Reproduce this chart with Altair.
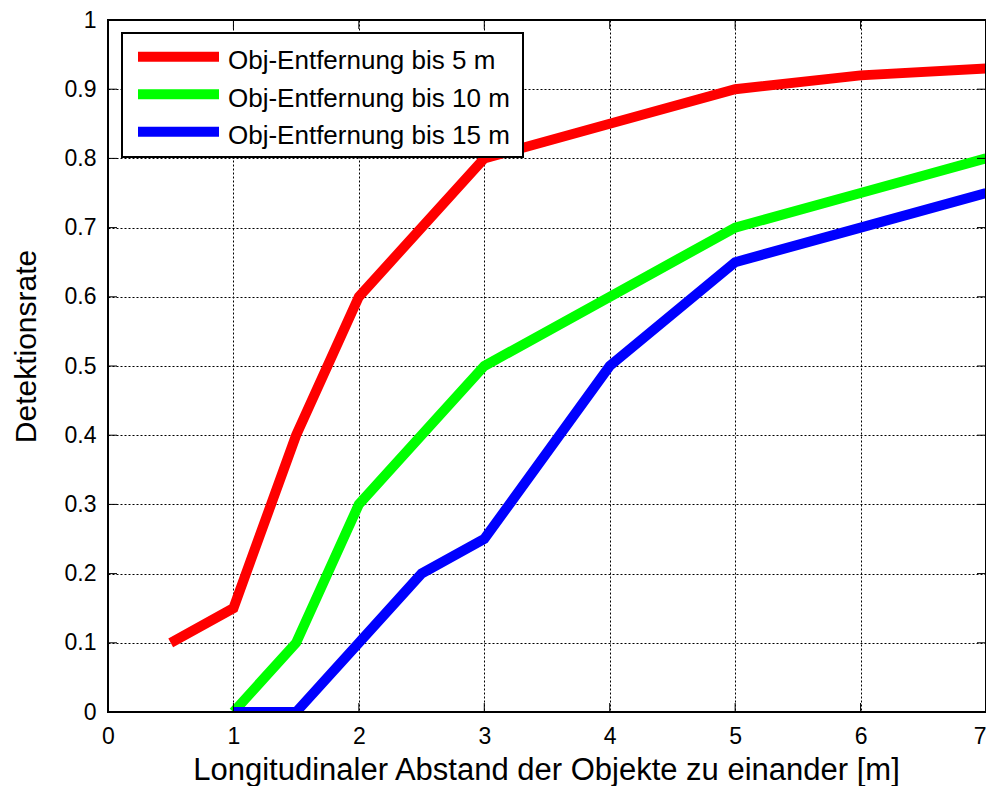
import altair as alt
import pandas as pd

# ---- data ----
x_red = [0.5, 1, 1.5, 2, 2.5, 3, 4, 5, 6, 7]
y_red = [0.1, 0.15, 0.4, 0.6, 0.7, 0.8, 0.85, 0.9, 0.92, 0.93]
x_green = [1, 1.5, 2, 2.5, 3, 4, 5, 6, 7]
y_green = [0, 0.1, 0.3, 0.4, 0.5, 0.6, 0.7, 0.75, 0.8]
x_blue = [1, 1.5, 2, 2.5, 3, 4, 5, 6, 7]
y_blue = [0, 0, 0.1, 0.2, 0.25, 0.5, 0.65, 0.7, 0.75]
series_names = ["Obj-Entfernung bis 5 m", "Obj-Entfernung bis 10 m", "Obj-Entfernung bis 15 m"]
series_colors = ["#ff0000", "#00ff00", "#0000ff"]
x_ticks = [0, 1, 2, 3, 4, 5, 6, 7]
y_ticks = [0, 0.1, 0.2, 0.3, 0.4, 0.5, 0.6, 0.7, 0.8, 0.9, 1]
x_title = "Longitudinaler Abstand der Objekte zu einander [m]"
y_title = "Detektionsrate"

W, H = 878, 692
FONT = "Liberation Sans"
xs = alt.Scale(domain=[0, 7], nice=False, zero=False)
ys = alt.Scale(domain=[0, 1], nice=False, zero=False)

x_axis = alt.Axis(
    values=x_ticks, title=x_title, format="d",
    grid=True, gridColor="black", gridDash=[2, 2], gridWidth=1, gridOpacity=1,
    ticks=False, tickSize=0, domain=False,
    labelFont=FONT, labelFontSize=23, labelColor="black", labelPadding=13,
    labelFlush=False, labelOverlap=False, labelBaseline="top",
    labelAlign={"expr": "datum.value == 7 ? 'right' : 'center'"},
    titleFont=FONT, titleFontSize=31, titleFontWeight="normal", titleColor="black",
    titleBaseline="alphabetic", titleY=67, titleX=438, titleAlign="center",
)
y_axis = alt.Axis(
    values=y_ticks, title=y_title, format="~g",
    grid=True, gridColor="black", gridDash=[2, 2], gridWidth=1, gridOpacity=1,
    ticks=False, tickSize=0, domain=False,
    labelFont=FONT, labelFontSize=23, labelColor="black", labelPadding=12,
    labelFlush=False, labelOverlap=False, labelBaseline="middle",
    titleFont=FONT, titleFontSize=30, titleFontWeight="normal", titleColor="black",
    titleAngle=270, titleX=-73, titleY=326, titleAlign="center", titleBaseline="alphabetic",
)

XE = alt.X("x:Q", scale=xs, axis=x_axis, title=x_title)
YE = alt.Y("y:Q", scale=ys, axis=y_axis, title=y_title)


def line_layer(xv, yv, color):
    df = pd.DataFrame({"x": xv, "y": yv})
    return alt.Chart(df).mark_line(
        color=color, strokeWidth=10, clip=True, strokeCap="butt", strokeJoin="miter"
    ).encode(x=XE, y=YE)


red = line_layer(x_red, y_red, series_colors[0])
green = line_layer(x_green, y_green, series_colors[1])
blue = line_layer(x_blue, y_blue, series_colors[2])

xt = pd.DataFrame({"x": x_ticks})
yt = pd.DataFrame({"y": y_ticks})
TL = 9
tick_bottom = alt.Chart(xt).mark_rule(color="black", strokeWidth=1).encode(
    x=XE, y=alt.value(H), y2=alt.value(H - TL))
tick_top = alt.Chart(xt).mark_rule(color="black", strokeWidth=1).encode(
    x=XE, y=alt.value(0), y2=alt.value(TL))
tick_left = alt.Chart(yt).mark_rule(color="black", strokeWidth=1).encode(
    y=YE, x=alt.value(0), x2=alt.value(TL))
tick_right = alt.Chart(yt).mark_rule(color="black", strokeWidth=1).encode(
    y=YE, x=alt.value(W), x2=alt.value(W - TL))

one = pd.DataFrame({"a": [0]})
frame = alt.Chart(one).mark_rect(filled=False, stroke="black", strokeWidth=2).encode(
    x=alt.value(0), x2=alt.value(W), y=alt.value(0), y2=alt.value(H))

legend_box = alt.Chart(one).mark_rect(fill="white", stroke="black", strokeWidth=2).encode(
    x=alt.value(14), x2=alt.value(415), y=alt.value(13), y2=alt.value(137))

legend_layers = [legend_box]
for i, (name, col) in enumerate(zip(series_names, series_colors)):
    legend_layers.append(
        alt.Chart(one).mark_rule(color=col, strokeWidth=10, strokeCap="butt").encode(
            x=alt.value(30), x2=alt.value(111), y=alt.value(36.7 + 37.5 * i))
    )
    legend_layers.append(
        alt.Chart(one).mark_text(align="left", baseline="alphabetic", font=FONT,
                                 fontSize=26, color="black").encode(
            x=alt.value(120), y=alt.value(49.3 + 37.5 * i), text=alt.value(name))
    )

chart = alt.layer(
    red, green, blue, tick_bottom, tick_top, tick_left, tick_right, frame, *legend_layers
).properties(
    width=W, height=H,
    autosize=alt.AutoSizeParams(type="none"),
    padding={"left": 100, "top": 12, "right": 0, "bottom": 74},
).configure_view(stroke=None)

chart.save("out.html", embed_options={"renderer": "svg", "actions": False})
